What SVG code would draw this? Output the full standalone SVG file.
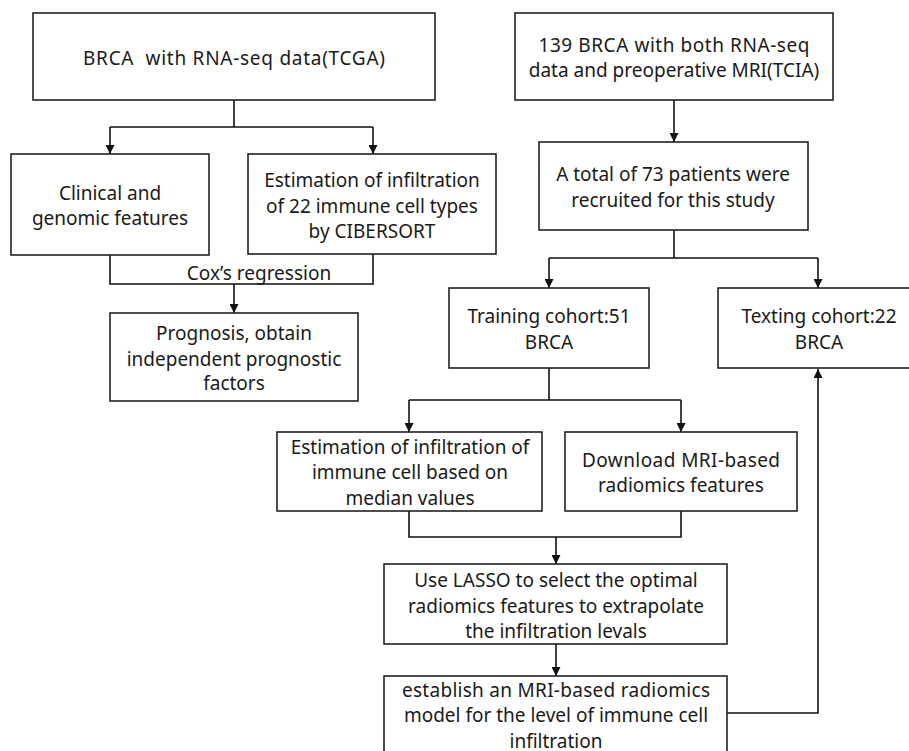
<svg xmlns="http://www.w3.org/2000/svg" width="909" height="751" viewBox="0 0 909 751">
<defs>
<marker id="arr" viewBox="0 0 10 10" refX="10" refY="5" markerWidth="9" markerHeight="9" markerUnits="userSpaceOnUse" orient="auto">
<path d="M0,0 L10,5 L0,10 z" fill="#111"/>
</marker>
<style>
.box{fill:#fff;stroke:#222;stroke-width:1.6}
.t{font-family:"Noto Sans","Liberation Sans",sans-serif;font-size:19px;fill:#1a1a1a;text-anchor:middle}
.c{fill:none;stroke:#111;stroke-width:1.6}
.a{fill:none;stroke:#111;stroke-width:1.6;marker-end:url(#arr)}
</style>
</defs>
<rect width="909" height="751" fill="#fff"/>
<g id="connectors">
<path class="c" d="M234,100 V127 M110,127 H373"/>
<path class="a" d="M110,127 V154"/>
<path class="a" d="M373,127 V154"/>
<path class="c" d="M110,255 V284 H373 V254"/>
<path class="a" d="M234,284 V313"/>
<path class="a" d="M674,100 V142"/>
<path class="c" d="M674,230 V258 M549,258 H818"/>
<path class="a" d="M549,258 V288"/>
<path class="a" d="M818,258 V288"/>
<path class="c" d="M549,368 V400 M409,400 H681"/>
<path class="a" d="M409,400 V432"/>
<path class="a" d="M681,400 V432"/>
<path class="c" d="M409,511 V537 H681 V511"/>
<path class="a" d="M556,537 V564"/>
<path class="a" d="M556,644 V676"/>
<path class="a" d="M727,713 H818 V369"/>
<text class="t" x="259" y="280">Cox’s regression</text>
</g>
<g id="n1"><rect class="box" x="33" y="13" width="402" height="87"/><text class="t" x="234" y="65" xml:space="preserve" textLength="302" lengthAdjust="spacing">BRCA  with RNA-seq data(TCGA)</text></g>
<g id="n2"><rect class="box" x="11" y="154" width="198" height="101"/><text class="t" x="110" y="200">Clinical and</text><text class="t" x="110" y="225">genomic features</text></g>
<g id="n3"><rect class="box" x="248" y="154" width="248" height="100"/><text class="t" x="372" y="187">Estimation of infiltration</text><text class="t" x="372" y="213">of 22 immune cell types</text><text class="t" x="372" y="238">by CIBERSORT</text></g>
<g id="n4"><rect class="box" x="110" y="313" width="248" height="88"/><text class="t" x="234" y="340">Prognosis, obtain</text><text class="t" x="234" y="366">independent prognostic</text><text class="t" x="234" y="390">factors</text></g>
<g id="n5"><rect class="box" x="515" y="13" width="318" height="87"/><text class="t" x="674" y="52" textLength="271" lengthAdjust="spacing">139 BRCA with both RNA-seq</text><text class="t" x="674" y="77">data and preoperative MRI(TCIA)</text></g>
<g id="n6"><rect class="box" x="539" y="142" width="269" height="88"/><text class="t" x="673" y="181">A total of 73 patients were</text><text class="t" x="673" y="207">recruited for this study</text></g>
<g id="n7"><rect class="box" x="449" y="288" width="200" height="80"/><text class="t" x="549" y="323">Training cohort:51</text><text class="t" x="549" y="349">BRCA</text></g>
<g id="n8"><rect class="box" x="718" y="288" width="210" height="80"/><text class="t" x="819" y="323">Texting cohort:22</text><text class="t" x="819" y="349">BRCA</text></g>
<g id="n9"><rect class="box" x="277" y="432" width="265" height="79"/><text class="t" x="410" y="454">Estimation of infiltration of</text><text class="t" x="410" y="479">immune cell based on</text><text class="t" x="410" y="505">median values</text></g>
<g id="n10"><rect class="box" x="565" y="432" width="232" height="79"/><text class="t" x="681" y="467" textLength="198" lengthAdjust="spacing">Download MRI-based</text><text class="t" x="681" y="492">radiomics features</text></g>
<g id="n11"><rect class="box" x="384" y="564" width="343" height="80"/><text class="t" x="556" y="587">Use LASSO to select the optimal</text><text class="t" x="556" y="613">radiomics features to extrapolate</text><text class="t" x="556" y="638">the infiltration levals</text></g>
<g id="n12"><rect class="box" x="384" y="676" width="343" height="90"/><text class="t" x="556" y="697" textLength="308" lengthAdjust="spacing">establish an MRI-based radiomics</text><text class="t" x="556" y="722">model for the level of immune cell</text><text class="t" x="556" y="748">infiltration</text></g>
</svg>
